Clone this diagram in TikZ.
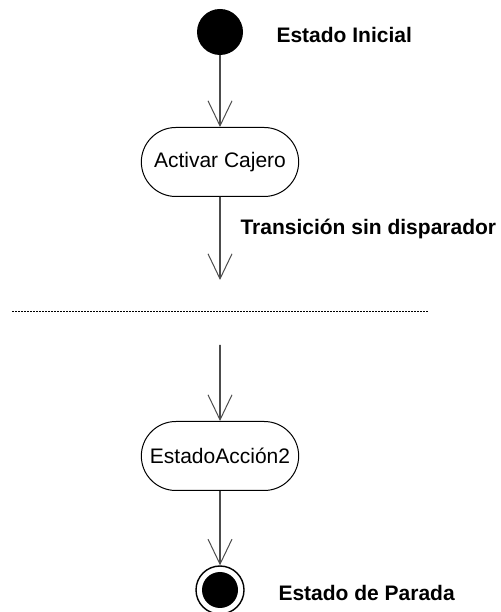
\documentclass[tikz,border=0pt]{standalone}
\usepackage{fontspec}
\setmainfont{Liberation Sans}
\usetikzlibrary{arrows.meta,shapes.misc}
\tikzset{
    accion/.style={rounded rectangle, draw, line width=1pt, minimum width=164pt, minimum height=69pt, font=\fontsize{21}{24}\selectfont},
    inicio/.style={circle, fill=black, minimum size=46pt, inner sep=0pt},
    parada/.style={circle, draw, line width=1.4pt, minimum size=48pt, inner sep=0pt},
    nota/.style={anchor=west, font=\fontsize{21}{24}\selectfont\bfseries},
    flujo/.style={draw=black!70, line width=1.6pt, -{Straight Barb[length=25pt,width=24pt,line width=1pt]}}
}
\begin{document}
\begin{tikzpicture}[x=1pt,y=1pt]
    \useasboundingbox (0,0) rectangle (500,612);
    \node[inicio] (ini) at (220,580) {};
    \node[nota] (lini) at (273,577) {Estado Inicial};
    \node[accion] (act1) at (220,450) {Activar Cajero};
    \coordinate (fin1) at (220,332);
    \node[nota] (ltrans) at (237,383) {Transición sin disparador};
    \coordinate (corteA) at (12,301);
    \coordinate (corteB) at (428,301);
    \coordinate (ini2) at (220,267);
    \node[accion] (act2) at (220,156) {EstadoAcción2};
    \node[parada] (fin) at (220,22) {};
    \fill (fin) circle (18pt);
    \node[nota] (lfin) at (275,19) {Estado de Parada};
    \draw[flujo] (ini) -- (act1);
    \draw[flujo] (act1) -- (fin1);
    \draw[line width=0.8pt, dash pattern=on 1.5pt off 1.5pt] (corteA) -- (corteB);
    \draw[flujo] (ini2) -- (act2);
    \draw[flujo] (act2) -- (fin);
\end{tikzpicture}
\end{document}
